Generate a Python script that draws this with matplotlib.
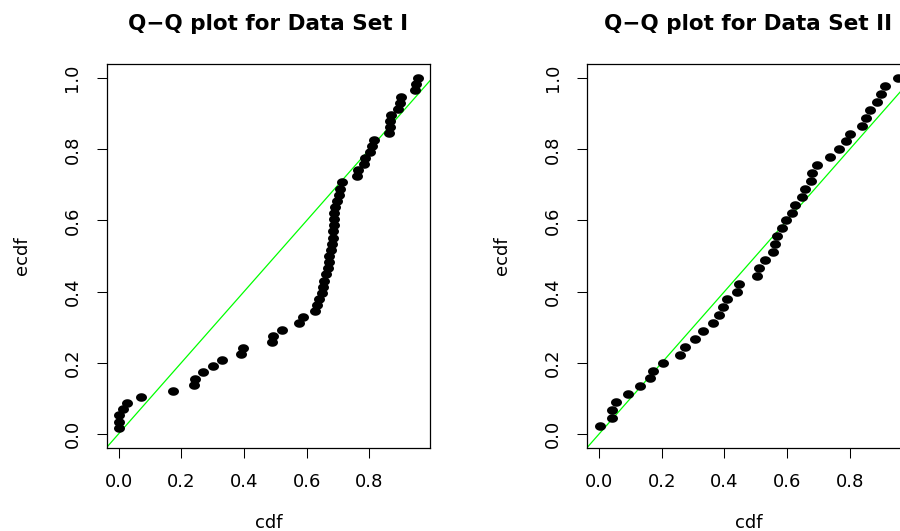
import numpy as np
import matplotlib
matplotlib.use("Agg")
import matplotlib.pyplot as plt
from matplotlib.path import Path
from matplotlib.ticker import MultipleLocator, FormatStrFormatter

# ---- Data Set I (58 sorted observations): theoretical cdf vs ecdf ----
cdf1 = [0.000, 0.000, 0.001, 0.014, 0.025, 0.070, 0.174, 0.240, 0.243, 0.270,
        0.300, 0.331, 0.389, 0.396, 0.489, 0.492, 0.521, 0.576, 0.587, 0.627,
        0.633, 0.638, 0.649, 0.652, 0.654, 0.662, 0.667, 0.670, 0.672, 0.678,
        0.681, 0.683, 0.684, 0.686, 0.688, 0.688, 0.689, 0.697, 0.702, 0.707,
        0.713, 0.760, 0.765, 0.782, 0.787, 0.803, 0.809, 0.816, 0.862, 0.865,
        0.867, 0.870, 0.892, 0.899, 0.902, 0.945, 0.947, 0.955]
ecdf1 = [(i + 1) / 58 for i in range(58)]

# ---- Data Set II (45 sorted observations) ----
cdf2 = [0.002, 0.040, 0.042, 0.055, 0.093, 0.131, 0.161, 0.173, 0.204, 0.257,
        0.274, 0.305, 0.333, 0.364, 0.382, 0.395, 0.409, 0.441, 0.448, 0.505,
        0.511, 0.531, 0.554, 0.560, 0.568, 0.584, 0.597, 0.616, 0.624, 0.648,
        0.656, 0.678, 0.680, 0.696, 0.738, 0.765, 0.789, 0.800, 0.839, 0.852,
        0.864, 0.887, 0.901, 0.912, 0.954]
ecdf2 = [(i + 1) / 45 for i in range(45)]

titles = ["Q\u2212Q plot for Data Set I", "Q\u2212Q plot for Data Set II"]
xlabel = "cdf"
ylabel = "ecdf"

plt.rcParams['font.family'] = ['DejaVu Sans']

W, H = 900, 531
fig = plt.figure(figsize=(W / 100, H / 100), dpi=100)

# ellipse marker (R output appears horizontally stretched)
t = np.linspace(0, 2 * np.pi, 60)
ell = Path(np.column_stack([np.cos(t), 0.78 * np.sin(t)]), closed=True)

axes_px = [(106.7, 64, 323.3, 384), (587.3, 64, 322.5, 384)]
datasets = [(cdf1, ecdf1), (cdf2, ecdf2)]

for (lx, ty, w, h), (xs, ys), title in zip(axes_px, datasets, titles):
    ax = fig.add_axes([lx / W, (H - ty - h) / H, w / W, h / H])
    ax.scatter(xs, ys, s=7.9 ** 2, marker=ell, color='black', linewidths=0, zorder=3)
    ax.margins(x=0.04, y=0.04)
    ax.autoscale_view()
    ax.axline((0, 0), slope=1, color='#00FF00', lw=0.9, zorder=2)
    ax.xaxis.set_major_locator(MultipleLocator(0.2))
    ax.yaxis.set_major_locator(MultipleLocator(0.2))
    ax.xaxis.set_major_formatter(FormatStrFormatter('%.1f'))
    ax.yaxis.set_major_formatter(FormatStrFormatter('%.1f'))
    ax.tick_params(direction='out', length=7.2, width=0.75, labelsize=13, pad=11,
                   colors='black')
    for lab in ax.get_yticklabels():
        lab.set_rotation(90)
        lab.set_va('center')
    for sp in ax.spines.values():
        sp.set_linewidth(0.9)
        sp.set_color('black')
    ax.set_xlabel(xlabel, fontsize=13)
    ax.set_ylabel(ylabel, fontsize=13)
    ax.xaxis.set_label_coords(0.5, -(514 - (ty + h)) / h)
    ax.xaxis.label.set_va('top')
    ax.yaxis.set_label_coords(-76.0 / w, 0.5)
    ax.set_title(title, fontsize=15.5, fontweight='bold', pad=24.5)

fig.savefig("out.png", dpi=100)
